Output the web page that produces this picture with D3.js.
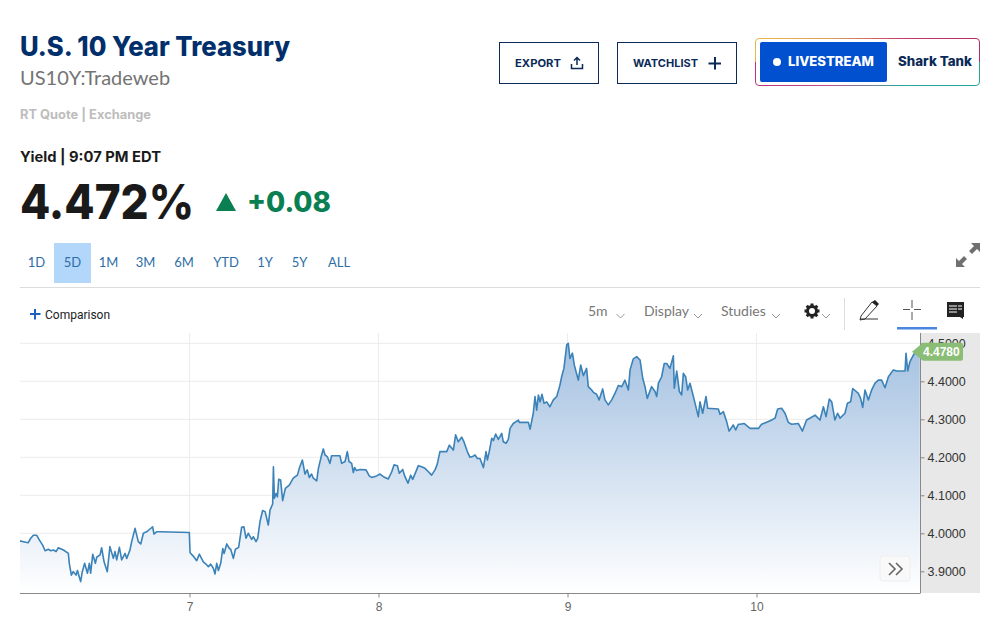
<!DOCTYPE html>
<html>
<head>
<meta charset="utf-8">
<script src="https://cdn.jsdelivr.net/npm/d3@7"></script>
<style>
html, body { margin: 0; padding: 0; background: #fff; }
svg { display: block; }
</style>
</head>
<body>
<div id="chart"></div>
<script>
const days = [
  6.103,6.121,6.146,6.160,6.174,6.191,6.206,6.223,6.236,6.253,6.266,6.280,6.294,6.306,6.333,6.359,6.364,6.375,6.385,6.400,
  6.407,6.424,6.433,6.445,6.460,6.470,6.477,6.488,6.502,6.509,6.527,6.535,6.548,6.565,6.579,6.597,6.606,6.615,6.629,6.641,
  6.659,6.668,6.685,6.694,6.712,6.729,6.742,6.756,6.773,6.788,6.805,6.812,6.826,6.844,6.999,7.003,7.020,7.038,7.052,7.073,
  7.087,7.100,7.112,7.126,7.135,7.144,7.153,7.165,7.176,7.183,7.197,7.211,7.218,7.232,7.243,7.260,7.276,7.288,7.299,7.311,
  7.329,7.338,7.352,7.361,7.373,7.387,7.400,7.417,7.426,7.440,7.444,7.449,7.458,7.465,7.472,7.482,7.493,7.507,7.528,7.549,
  7.571,7.581,7.597,7.611,7.623,7.634,7.646,7.655,7.673,7.682,7.699,7.708,7.717,7.729,7.743,7.752,7.796,7.805,7.823,7.835,
  7.844,7.858,7.867,7.874,7.884,7.902,7.934,7.951,7.964,7.990,8.008,8.026,8.052,8.070,8.082,8.100,8.110,8.128,8.140,8.156,
  8.170,8.181,8.211,8.228,8.246,8.264,8.281,8.299,8.311,8.325,8.343,8.361,8.375,8.396,8.408,8.422,8.440,8.452,8.470,8.484,
  8.498,8.511,8.523,8.537,8.555,8.569,8.576,8.586,8.599,8.608,8.620,8.634,8.652,8.660,8.675,8.687,8.696,8.713,8.740,8.745,
  8.793,8.802,8.810,8.819,8.828,8.837,8.846,8.855,8.865,8.876,8.890,8.907,8.925,8.943,8.960,8.969,8.981,8.996,9.004,9.013,
  9.026,9.036,9.057,9.070,9.084,9.101,9.110,9.128,9.137,9.154,9.167,9.186,9.198,9.216,9.234,9.251,9.269,9.287,9.304,9.322,
  9.331,9.348,9.366,9.384,9.398,9.410,9.422,9.445,9.463,9.472,9.481,9.498,9.512,9.525,9.542,9.560,9.565,9.578,9.592,9.604,
  9.613,9.625,9.636,9.648,9.666,9.675,9.692,9.701,9.715,9.733,9.742,9.798,9.807,9.825,9.842,9.855,9.877,9.890,9.904,9.913,
  9.934,9.966,10.010,10.027,10.063,10.080,10.098,10.112,10.133,10.151,10.168,10.186,10.221,10.243,10.265,10.287,10.310,10.336,10.354,10.368,
  10.385,10.398,10.415,10.429,10.442,10.468,10.481,10.498,10.509,10.539,10.551,10.562,10.574,10.592,10.609,10.627,10.645,10.662,10.680,10.698,
  10.724,10.742,10.786,10.791,10.800,10.812,10.830,10.847,10.864
];
const yields = [
  3.980,3.978,3.975,3.987,3.995,3.995,3.982,3.969,3.954,3.958,3.954,3.956,3.952,3.962,3.956,3.947,3.921,3.890,3.899,3.890,
  3.902,3.873,3.899,3.921,3.895,3.921,3.895,3.945,3.921,3.937,3.943,3.962,3.925,3.899,3.965,3.934,3.952,3.930,3.963,3.930,
  3.947,3.934,3.956,3.978,4.013,3.978,3.972,4.000,4.004,4.010,4.017,3.998,4.004,4.004,4.002,3.949,3.940,3.928,3.945,3.925,
  3.919,3.912,3.919,3.908,3.893,3.921,3.902,3.921,3.960,3.947,3.972,3.960,3.958,3.934,3.958,3.963,4.016,4.017,3.987,4.000,
  3.984,3.991,3.978,3.987,4.031,4.060,4.057,4.022,4.061,4.077,4.175,4.092,4.105,4.096,4.142,4.140,4.086,4.118,4.127,4.145,
  4.153,4.171,4.193,4.156,4.167,4.147,4.156,4.145,4.138,4.171,4.206,4.222,4.206,4.202,4.184,4.204,4.204,4.184,4.189,4.215,
  4.189,4.184,4.160,4.173,4.165,4.168,4.167,4.151,4.147,4.151,4.156,4.149,4.143,4.162,4.180,4.178,4.158,4.168,4.149,4.132,
  4.153,4.142,4.178,4.175,4.171,4.162,4.153,4.167,4.182,4.215,4.215,4.215,4.232,4.219,4.259,4.241,4.253,4.241,4.215,4.200,
  4.202,4.206,4.197,4.197,4.173,4.215,4.193,4.215,4.250,4.244,4.261,4.247,4.263,4.241,4.237,4.247,4.276,4.289,4.298,4.292,
  4.292,4.274,4.294,4.316,4.360,4.324,4.364,4.346,4.366,4.342,4.346,4.333,4.351,4.360,4.390,4.412,4.434,4.496,4.500,4.460,
  4.474,4.443,4.403,4.443,4.415,4.434,4.386,4.377,4.371,4.366,4.351,4.380,4.351,4.338,4.351,4.368,4.389,4.386,4.403,4.377,
  4.430,4.459,4.465,4.456,4.408,4.386,4.355,4.386,4.373,4.360,4.395,4.412,4.447,4.447,4.434,4.467,4.382,4.427,4.373,4.364,
  4.421,4.412,4.377,4.395,4.360,4.342,4.307,4.346,4.316,4.360,4.329,4.327,4.313,4.320,4.294,4.269,4.285,4.272,4.287,4.287,
  4.289,4.276,4.276,4.287,4.294,4.298,4.303,4.327,4.329,4.316,4.292,4.287,4.289,4.269,4.298,4.304,4.311,4.298,4.333,4.307,
  4.353,4.346,4.298,4.316,4.303,4.316,4.342,4.346,4.381,4.368,4.355,4.331,4.377,4.351,4.377,4.395,4.403,4.403,4.383,4.412,
  4.430,4.427,4.427,4.474,4.427,4.452,4.469,4.480,4.486
];
const dayTicks = [7, 8, 9, 10];
const yieldTicks = [3.9, 4.0, 4.1, 4.2, 4.3, 4.4, 4.5];
const ranges = ["1D", "5D", "1M", "3M", "6M", "YTD", "1Y", "5Y", "ALL"];
const rangeCentres = [36.5, 72.5, 108.5, 145.5, 184, 226, 265, 299.5, 339];
const lastYield = 4.478;

const W = 993, H = 635;
const plot = { left: 20, right: 920, top: 333, bottom: 593, panel: 980 };
const navy = "#002f6c", green = "#0a7f52", link = "#2e6ea6";
const head = "Lato, sans-serif";
const heavy = "Inter, sans-serif";

const svg = d3.select("#chart").append("svg").attr("width", W).attr("height", H);
const defs = svg.append("defs");

const x = d3.scaleLinear().domain([7, 10]).range([189.5, 756.5]);
const y = d3.scaleLinear().domain([3.9, 4.5]).range([571.3, 343.3]);
const points = days.map((d, i) => [d, yields[i]]);

const addText = (g, px, py, str, size, weight, fill, family, anchor) =>
  g.append("text").attr("x", px).attr("y", py).text(str)
    .attr("font-size", size).attr("font-weight", weight).attr("fill", fill)
    .attr("font-family", family || head).attr("text-anchor", anchor || "start");
// same, squeezed to the width it has in the picture
const fitText = (g, px, py, str, size, weight, fill, family, len) =>
  addText(g, px, py, str, size, weight, fill, family)
    .attr("textLength", len).attr("lengthAdjust", "spacingAndGlyphs");

const hGrad = (id, stops) => {
  const g = defs.append("linearGradient").attr("id", id);
  stops.forEach((c, i) => g.append("stop").attr("offset", i / (stops.length - 1)).attr("stop-color", c));
};

// ---- header
const header = svg.append("g");
fitText(header, 20, 56, "U.S. 10 Year Treasury", 26.5, 800, navy, heavy, 270);
addText(header, 20, 85, "US10Y:Tradeweb", 20, 400, "#747474");
fitText(header, 20, 119, "RT Quote | Exchange", 12.5, 700, "#bdbdbd", heavy, 131);
fitText(header, 20, 162, "Yield | 9:07 PM EDT", 14.5, 700, "#1a1a1a", heavy, 141);
fitText(header, 20, 219, "4.472%", 48, 800, "#1a1a1a", heavy, 174);
header.append("path").attr("d", "M226 193L236 211H216Z").attr("fill", green);
fitText(header, 247, 212, "+0.08", 28, 800, green, heavy, 84);

// export + watchlist buttons
header.append("rect").attr("x", 499.5).attr("y", 42.5).attr("width", 99).attr("height", 41).attr("fill", "#fff").attr("stroke", "#0b2a57");
fitText(header, 515, 67, "EXPORT", 10.5, 700, "#0b2a57", heavy, 46);
header.append("path").attr("d", "M571.5 64v4.5h11V64M577 65V58M574 60.5l3-3 3 3").attr("fill", "none").attr("stroke", "#0b2a57").attr("stroke-width", 1.5);
header.append("rect").attr("x", 617.5).attr("y", 42.5).attr("width", 119).attr("height", 41).attr("fill", "#fff").attr("stroke", "#0b2a57");
fitText(header, 633, 67, "WATCHLIST", 10.5, 700, "#0b2a57", heavy, 65);
header.append("path").attr("d", "M715 57v12.5M708.5 63.5h12.5").attr("fill", "none").attr("stroke", "#0b2a57").attr("stroke-width", 2);

// livestream box, border is two gradient halves
hGrad("edgeTop", ["#e9b64a", "#d9a05a", "#c23a6a", "#b52a6a"]);
hGrad("edgeBottom", ["#b8337a", "#c0508a", "#2aa8a0", "#25a59a"]);
header.append("path").attr("d", "M755.5 62V42a3.5 3.5 0 0 1 3.5-3.5H976a3.5 3.5 0 0 1 3.5 3.5V62").attr("fill", "none").attr("stroke", "url(#edgeTop)");
header.append("path").attr("d", "M755.5 62V82a3.5 3.5 0 0 0 3.5 3.5H976a3.5 3.5 0 0 0 3.5-3.5V62").attr("fill", "none").attr("stroke", "url(#edgeBottom)");
header.append("rect").attr("x", 760).attr("y", 42).attr("width", 127).attr("height", 40).attr("rx", 2).attr("fill", "#0050cf");
header.append("circle").attr("cx", 777).attr("cy", 62).attr("r", 4).attr("fill", "#fff");
fitText(header, 788, 66, "LIVESTREAM", 12.5, 800, "#fff", heavy, 86);
fitText(header, 898, 66, "Shark Tank", 13, 800, "#0b2a57", heavy, 74);

// range selector
header.append("rect").attr("x", 54).attr("y", 243).attr("width", 37).attr("height", 40).attr("fill", "#b3d7fb");
ranges.forEach((r, i) => addText(header, rangeCentres[i], 267, r, 13, 400, link, head, "middle"));
header.append("path").attr("d", "M956 267v-9l3 3 5-5 3 3-5 5 3 3ZM980 243v9l-3-3-5 5-3-3 5-5-3-3Z").attr("fill", "#707070");
header.append("line").attr("x1", 20).attr("x2", 980).attr("y1", 287.5).attr("y2", 287.5).attr("stroke", "#dcdcdc");

// ---- toolbar
const tools = svg.append("g");
tools.append("path").attr("d", "M35 309v10.5M30 314h10.5").attr("stroke", "#1f62c4").attr("stroke-width", 2);
addText(tools, 45, 319, "Comparison", 12, 400, "#222", "Roboto, sans-serif");
const chevron = cx => tools.append("path").attr("d", `M${cx - 4} 314l4 4 4-4`).attr("fill", "none").attr("stroke", "#999");
addText(tools, 588, 316, "5m", 14, 400, "#777");
addText(tools, 644, 316, "Display", 14, 400, "#777");
addText(tools, 721, 316, "Studies", 14, 400, "#777");
[620.5, 698, 776, 826].forEach(chevron);
// gear
tools.append("circle").attr("cx", 812).attr("cy", 311).attr("r", 4.5).attr("fill", "none").attr("stroke", "#222").attr("stroke-width", 3);
d3.range(8).forEach(i => tools.append("rect").attr("x", 810.5).attr("y", 303.5).attr("width", 3).attr("height", 3)
  .attr("fill", "#222").attr("transform", `rotate(${i * 45} 812 311)`));
tools.append("line").attr("x1", 844.5).attr("x2", 844.5).attr("y1", 298).attr("y2", 330).attr("stroke", "#ddd");
// pencil
tools.append("path").attr("d", "M861 316l11-14 5 4-12 13-5 1ZM860 319h18").attr("fill", "none").attr("stroke", "#333");
tools.append("path").attr("d", "M872 302l3-2 4 4-2 2Z").attr("fill", "#222");
// crosshair
tools.append("path").attr("d", "M912 300v8M912 312v8M903 309.5h7M914 309.5h7").attr("stroke", "#555");
tools.append("rect").attr("x", 897).attr("y", 327).attr("width", 40).attr("height", 2.5).attr("fill", "#4a86e0");
// comment icon
tools.append("path").attr("d", "M947 302h17v15h-1v2l-3-2h-13Z").attr("fill", "#222");
tools.append("path").attr("d", "M949 306h8M949 309h8M949 312h8M958 306h4M958 309h4").attr("stroke", "#fff");

// ---- chart
const chart = svg.append("g");
chart.append("rect").attr("x", plot.right).attr("y", plot.top).attr("width", plot.panel - plot.right)
  .attr("height", plot.bottom - plot.top).attr("fill", "#e8e8e8");

// grid
chart.append("g").selectAll("line").data(yieldTicks).enter().append("line")
  .attr("x1", plot.left).attr("x2", plot.right)
  .attr("y1", d => y(d)).attr("y2", d => y(d)).attr("stroke", "#ececec");
chart.append("g").selectAll("line").data(dayTicks).enter().append("line")
  .attr("x1", d => x(d)).attr("x2", d => x(d))
  .attr("y1", plot.top).attr("y2", plot.bottom).attr("stroke", "#ececec");

// area + line
const fade = defs.append("linearGradient").attr("id", "fade").attr("gradientUnits", "userSpaceOnUse")
  .attr("x1", 0).attr("x2", 0).attr("y1", 343).attr("y2", plot.bottom);
fade.append("stop").attr("offset", 0).attr("stop-color", "#a4c1e1");
fade.append("stop").attr("offset", 1).attr("stop-color", "#ffffff");

const area = d3.area().x(d => x(d[0])).y0(plot.bottom).y1(d => y(d[1]));
const line = d3.line().x(d => x(d[0])).y(d => y(d[1]));
chart.append("path").datum(points).attr("d", area).attr("fill", "url(#fade)");
chart.append("path").datum(points).attr("d", line).attr("fill", "none")
  .attr("stroke", "#3a82b8").attr("stroke-width", 1.6).attr("stroke-linejoin", "round");

// axes
const yAxis = d3.axisRight(y).tickValues(yieldTicks).tickFormat(d3.format(".4f")).tickSize(4).tickPadding(3);
const yG = chart.append("g").attr("transform", `translate(${plot.right + 0.5},0)`).call(yAxis);
yG.select(".domain").remove();
yG.selectAll("line").attr("stroke", "#888");
yG.selectAll("text").attr("font-family", "'Liberation Sans', Arial, sans-serif").attr("font-size", 12.5).attr("fill", "#333");
chart.append("line").attr("x1", plot.right + 0.5).attr("x2", plot.right + 0.5).attr("y1", plot.top).attr("y2", plot.bottom).attr("stroke", "#888");

const xAxis = d3.axisBottom(x).tickValues(dayTicks).tickFormat(d3.format("d")).tickSize(4).tickPadding(5);
const xG = chart.append("g").attr("transform", `translate(0,${plot.bottom + 0.5})`).call(xAxis);
xG.select(".domain").remove();
xG.selectAll("line").attr("stroke", "#888");
xG.selectAll("text").attr("font-family", "'Liberation Sans', Arial, sans-serif").attr("font-size", 12).attr("fill", "#666");
chart.append("line").attr("x1", plot.left).attr("x2", plot.right + 0.5).attr("y1", plot.bottom + 0.5).attr("y2", plot.bottom + 0.5).attr("stroke", "#888");

// last price flag
const ly = y(lastYield);
chart.append("path").attr("d", `M912 ${ly}L923 ${ly - 9}H961a2 2 0 0 1 2 2V${ly + 7}a2 2 0 0 1-2 2H923Z`).attr("fill", "#8abd75");
addText(chart, 923, ly + 4.5, d3.format(".4f")(lastYield), 12, 700, "#fff", "'Liberation Sans', Arial, sans-serif");

// scroll button
chart.append("rect").attr("x", 880).attr("y", 556).attr("width", 30).attr("height", 25).attr("rx", 3)
  .attr("fill", "#f9f9f9").attr("stroke", "#eee");
chart.append("path").attr("d", "M889 563l6 6-6 6M896 563l6 6-6 6").attr("fill", "none").attr("stroke", "#666").attr("stroke-width", 1.6);
</script>
</body>
</html>
